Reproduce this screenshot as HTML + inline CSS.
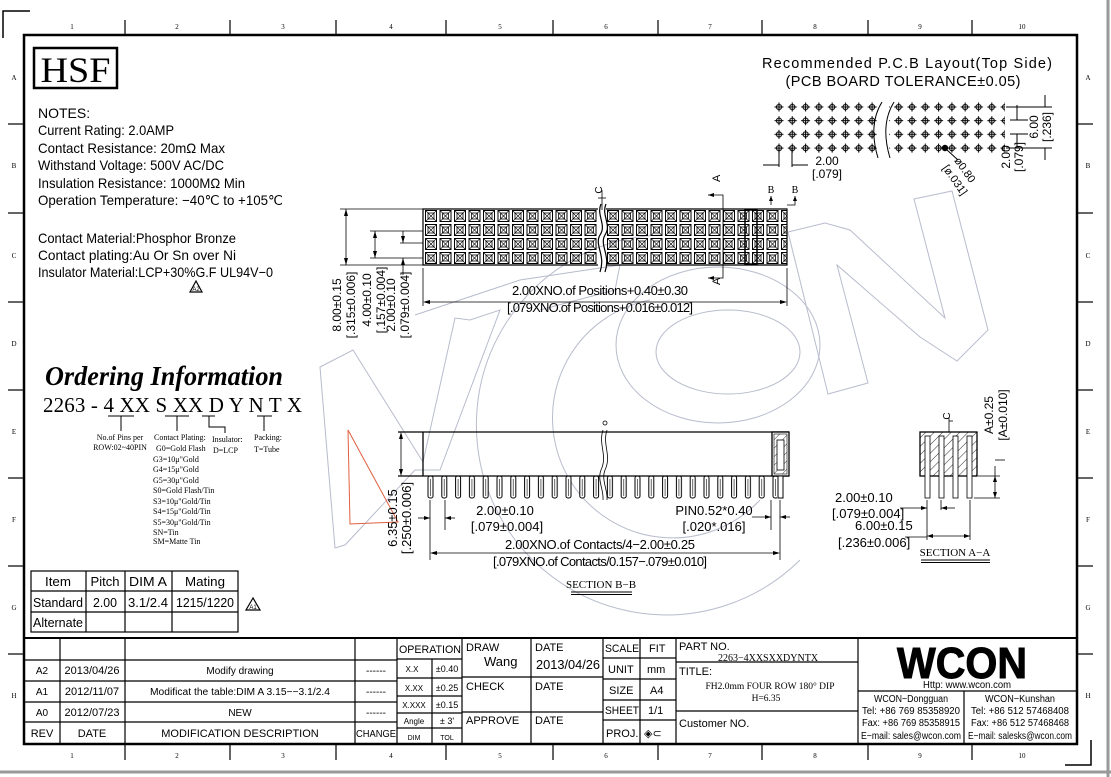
<!DOCTYPE html>
<html><head><meta charset="utf-8"><style>
html,body{margin:0;padding:0;background:#fff;}
svg{display:block;}
text{font-family:"Liberation Sans",sans-serif;fill:#000;}
.s{font-family:"Liberation Serif",serif;}
</style></head><body>
<svg width="1111" height="777" viewBox="0 0 1111 777" xmlns="http://www.w3.org/2000/svg">
<defs>
<pattern id="cell" patternUnits="userSpaceOnUse" x="424" y="209" width="14.5" height="14">
<rect x="1.5" y="1.5" width="11" height="11" fill="none" stroke="#000" stroke-width="1"/>
<rect x="4" y="4" width="6" height="6" fill="none" stroke="#000" stroke-width="0.8"/>
<path d="M1.5 1.5L4 4M12.5 1.5L10 4M1.5 12.5L4 10M12.5 12.5L10 10M4 4L10 10M10 4L4 10" stroke="#000" stroke-width="0.6"/>
</pattern>
<pattern id="cell2" patternUnits="userSpaceOnUse" x="606" y="209" width="14.5" height="14">
<rect x="1.5" y="1.5" width="11" height="11" fill="none" stroke="#000" stroke-width="1"/>
<rect x="4" y="4" width="6" height="6" fill="none" stroke="#000" stroke-width="0.8"/>
<path d="M1.5 1.5L4 4M12.5 1.5L10 4M1.5 12.5L4 10M12.5 12.5L10 10M4 4L10 10M10 4L4 10" stroke="#000" stroke-width="0.6"/>
</pattern>
<pattern id="dot" patternUnits="userSpaceOnUse" x="772.5" y="100.5" width="13.3" height="13.7">
<circle cx="6.5" cy="6.5" r="2.6" fill="none" stroke="#000" stroke-width="1"/>
<path d="M2 6.5H11M6.5 2V11" stroke="#000" stroke-width="1"/>
</pattern>
<pattern id="pin" patternUnits="userSpaceOnUse" x="427" y="476" width="13.8" height="30">
<rect x="1" y="0" width="5" height="22" rx="2" fill="#fff" stroke="#000" stroke-width="1"/>
<line x1="3.5" y1="3" x2="3.5" y2="20" stroke="#000" stroke-width="0.6"/>
</pattern>
<pattern id="hatch" patternUnits="userSpaceOnUse" width="6" height="6" patternTransform="rotate(45)">
<line x1="0" y1="0" x2="0" y2="6" stroke="#000" stroke-width="0.8"/>
</pattern>
</defs>

<rect x="0" y="0" width="1111" height="777" fill="#fff"/>
<line x1="1108" y1="0" x2="1108" y2="777" stroke="#999" stroke-width="3"/>
<line x1="0" y1="772" x2="1111" y2="772" stroke="#999" stroke-width="3"/>
<path d="M3 38V11H30" fill="none" stroke="#000" stroke-width="1.5"/>
<path d="M1065 765H1091V740" fill="none" stroke="#000" stroke-width="1.5"/>

<g fill="none" stroke="#b8bccc" stroke-width="1">
<polygon points="320,367 353,350 423,462 455,318 470,320 500,310 440,470 415,470 345,545 335,548"/>
<path d="M660 235 A190 190 0 1 0 800 560"/>
<path d="M650 300 A120 120 0 1 0 760 500"/>
<ellipse cx="718" cy="345" rx="102" ry="78"/>
<ellipse cx="728" cy="352" rx="72" ry="42"/>
<polygon points="914,199 952,191 988,330 957,361 920,337 837,265 868,383 828,394 788,232 825,223 850,230 945,318"/>
<polyline points="415,315 520,280 620,265 615,290 540,310" />
</g>
<polygon points="348,430 398,522 350,524" fill="none" stroke="#e06040" stroke-width="1"/>

<rect x="24" y="35" width="1053" height="709" fill="none" stroke="#000" stroke-width="2.5"/>
<g stroke="#000" stroke-width="1.2">
<line x1="125" y1="20" x2="125" y2="35"/><line x1="230" y1="20" x2="230" y2="35"/><line x1="336" y1="20" x2="336" y2="35"/><line x1="446" y1="20" x2="446" y2="35"/><line x1="553" y1="20" x2="553" y2="35"/><line x1="658" y1="20" x2="658" y2="35"/><line x1="762" y1="20" x2="762" y2="35"/><line x1="868" y1="20" x2="868" y2="35"/><line x1="972" y1="20" x2="972" y2="35"/>
<line x1="125" y1="744" x2="125" y2="760"/><line x1="230" y1="744" x2="230" y2="760"/><line x1="336" y1="744" x2="336" y2="760"/><line x1="446" y1="744" x2="446" y2="760"/><line x1="553" y1="744" x2="553" y2="760"/><line x1="658" y1="744" x2="658" y2="760"/><line x1="762" y1="744" x2="762" y2="760"/><line x1="868" y1="744" x2="868" y2="760"/><line x1="972" y1="744" x2="972" y2="760"/>
<line x1="8" y1="124" x2="24" y2="124"/><line x1="8" y1="213" x2="24" y2="213"/><line x1="8" y1="302" x2="24" y2="302"/><line x1="8" y1="390" x2="24" y2="390"/><line x1="8" y1="478" x2="24" y2="478"/><line x1="8" y1="566" x2="24" y2="566"/><line x1="8" y1="654" x2="24" y2="654"/>
<line x1="1077" y1="124" x2="1093" y2="124"/><line x1="1077" y1="213" x2="1093" y2="213"/><line x1="1077" y1="302" x2="1093" y2="302"/><line x1="1077" y1="390" x2="1093" y2="390"/><line x1="1077" y1="478" x2="1093" y2="478"/><line x1="1077" y1="566" x2="1093" y2="566"/><line x1="1077" y1="654" x2="1093" y2="654"/>
</g>
<g class="s" font-size="7" text-anchor="middle" fill="#555">
<text x="72" y="29" class="s">1</text><text x="177" y="29" class="s">2</text><text x="283" y="29" class="s">3</text><text x="391" y="29" class="s">4</text><text x="500" y="29" class="s">5</text><text x="606" y="29" class="s">6</text><text x="710" y="29" class="s">7</text><text x="815" y="29" class="s">8</text><text x="920" y="29" class="s">9</text><text x="1022" y="29" class="s">10</text>
<text x="72" y="758" class="s">1</text><text x="177" y="758" class="s">2</text><text x="283" y="758" class="s">3</text><text x="391" y="758" class="s">4</text><text x="500" y="758" class="s">5</text><text x="606" y="758" class="s">6</text><text x="710" y="758" class="s">7</text><text x="815" y="758" class="s">8</text><text x="920" y="758" class="s">9</text><text x="1022" y="758" class="s">10</text>
<text x="14" y="80" class="s">A</text><text x="14" y="168" class="s">B</text><text x="14" y="258" class="s">C</text><text x="14" y="346" class="s">D</text><text x="14" y="434" class="s">E</text><text x="14" y="522" class="s">F</text><text x="14" y="610" class="s">G</text><text x="14" y="698" class="s">H</text>
<text x="1088" y="80" class="s">A</text><text x="1088" y="168" class="s">B</text><text x="1088" y="258" class="s">C</text><text x="1088" y="346" class="s">D</text><text x="1088" y="434" class="s">E</text><text x="1088" y="522" class="s">F</text><text x="1088" y="610" class="s">G</text><text x="1088" y="698" class="s">H</text>
</g>

<rect x="34" y="48" width="83" height="40" fill="none" stroke="#000" stroke-width="2.5"/>
<text x="75.5" y="82" class="s" font-size="36" text-anchor="middle" textLength="70" lengthAdjust="spacingAndGlyphs">HSF</text>
<g font-size="14">
<text x="38" y="118">NOTES:</text>
<text x="38" y="135" textLength="136" lengthAdjust="spacingAndGlyphs">Current Rating: 2.0AMP</text>
<text x="38" y="153" textLength="187" lengthAdjust="spacingAndGlyphs">Contact Resistance: 20mΩ Max</text>
<text x="38" y="170" textLength="186" lengthAdjust="spacingAndGlyphs">Withstand Voltage: 500V AC/DC</text>
<text x="38" y="188" textLength="207" lengthAdjust="spacingAndGlyphs">Insulation Resistance: 1000MΩ Min</text>
<text x="38" y="205" textLength="245" lengthAdjust="spacingAndGlyphs">Operation Temperature: −40℃ to +105℃</text>
<text x="38" y="243" textLength="198" lengthAdjust="spacingAndGlyphs">Contact Material:Phosphor Bronze</text>
<text x="38" y="260" textLength="198" lengthAdjust="spacingAndGlyphs">Contact plating:Au Or Sn over Ni</text>
<text x="38" y="277" textLength="235" lengthAdjust="spacingAndGlyphs">Insulator Material:LCP+30%G.F UL94V−0</text>
</g>
<polygon points="196,281 190,292 202,292" fill="none" stroke="#000" stroke-width="1.2"/>
<text x="196" y="291" font-size="6" text-anchor="middle">A2</text>

<text x="45" y="385" class="s" font-size="27" font-weight="bold" font-style="italic" textLength="238" lengthAdjust="spacingAndGlyphs">Ordering Information</text>
<text x="43" y="412" class="s" font-size="21" textLength="259" lengthAdjust="spacing">2263 - 4 XX S XX D Y N T X</text>
<g stroke="#000" stroke-width="1">
<line x1="108" y1="416" x2="134" y2="416"/><line x1="121" y1="416" x2="121" y2="431"/>
<line x1="165" y1="416" x2="189" y2="416"/><line x1="177" y1="416" x2="177" y2="431"/>
<line x1="202" y1="416" x2="215" y2="416"/><polyline points="209,416 209,427 225,427 225,433" fill="none"/>
<line x1="257" y1="416" x2="272" y2="416"/><line x1="264" y1="416" x2="264" y2="431"/>
</g>
<g class="s" font-size="8">
<text x="120" y="440" class="s" text-anchor="middle">No.of Pins per</text>
<text x="120" y="450" class="s" text-anchor="middle">ROW:02~40PIN</text>
<text x="154" y="440" class="s">Contact Plating:</text>
<text x="156" y="451" class="s">G0=Gold Flash</text>
<text x="153" y="462" class="s">G3=10μ"Gold</text>
<text x="153" y="472" class="s">G4=15μ"Gold</text>
<text x="153" y="483" class="s">G5=30μ"Gold</text>
<text x="153" y="493" class="s">S0=Gold Flash/Tin</text>
<text x="153" y="504" class="s">S3=10μ"Gold/Tin</text>
<text x="153" y="514" class="s">S4=15μ"Gold/Tin</text>
<text x="153" y="525" class="s">S5=30μ"Gold/Tin</text>
<text x="153" y="535" class="s">SN=Tin</text>
<text x="153" y="544" class="s">SM=Matte Tin</text>
<text x="212" y="442" class="s">Insulator:</text>
<text x="213" y="453" class="s">D=LCP</text>
<text x="254" y="440" class="s">Packing:</text>
<text x="254" y="452" class="s">T=Tube</text>
</g>

<g stroke="#000" stroke-width="1.2" fill="none">
<rect x="31" y="571" width="207" height="61"/>
<line x1="31" y1="591" x2="238" y2="591"/><line x1="31" y1="612" x2="238" y2="612"/>
<line x1="86" y1="571" x2="86" y2="632"/><line x1="125" y1="571" x2="125" y2="632"/><line x1="172" y1="571" x2="172" y2="632"/>
</g>
<g font-size="12.5" text-anchor="middle">
<text x="58" y="586" textLength="26" lengthAdjust="spacingAndGlyphs">Item</text><text x="105" y="586" textLength="29" lengthAdjust="spacingAndGlyphs">Pitch</text><text x="148" y="586" textLength="38" lengthAdjust="spacingAndGlyphs">DIM A</text><text x="205" y="586" textLength="40" lengthAdjust="spacingAndGlyphs">Mating</text>
<text x="58" y="607" textLength="50" lengthAdjust="spacingAndGlyphs">Standard</text><text x="105" y="607" textLength="24" lengthAdjust="spacingAndGlyphs">2.00</text><text x="148" y="607" textLength="40" lengthAdjust="spacingAndGlyphs">3.1/2.4</text><text x="205" y="607" textLength="58" lengthAdjust="spacingAndGlyphs">1215/1220</text>
<text x="58" y="627" textLength="50" lengthAdjust="spacingAndGlyphs">Alternate</text>
</g>
<polygon points="253,598 246,610 260,610" fill="none" stroke="#000" stroke-width="1.2"/>
<text x="253" y="609" font-size="6" text-anchor="middle">A1</text>

<rect x="424" y="209" width="174" height="56" fill="url(#cell)"/>
<rect x="606" y="209" width="181" height="56" fill="url(#cell2)"/>
<rect x="745" y="210" width="12" height="54" fill="none" stroke="#000" stroke-width="1.5"/>
<g stroke="#000" stroke-width="1.2" fill="none">
<polyline points="598,209 423,209 423,265 598,265"/>
<polyline points="606,209 787,209 787,265 606,265"/>
<path d="M601 204 C596 215 607 225 600 235 C594 245 606 255 600 272"/>
<path d="M606 204 C601 215 612 225 605 235 C599 245 611 255 605 272"/>
</g>
<g stroke="#000" stroke-width="0.8" fill="none">
<line x1="602" y1="190" x2="602" y2="210"/><line x1="598" y1="198" x2="606" y2="198"/>
<polyline points="708,195 723,195 723,278 708,278"/>
<polyline points="771,205 771,196"/><polyline points="787,205 795,205 795,196"/>
<line x1="340" y1="209" x2="423" y2="209"/><line x1="340" y1="265" x2="423" y2="265"/>
<line x1="346" y1="209" x2="346" y2="265"/>
<line x1="370" y1="231" x2="423" y2="231"/><line x1="370" y1="258" x2="423" y2="258"/>
<line x1="375" y1="231" x2="375" y2="258"/>
<line x1="400" y1="243" x2="423" y2="243"/><line x1="403" y1="231" x2="403" y2="243"/><line x1="403" y1="258" x2="403" y2="275"/>
<line x1="423" y1="268" x2="423" y2="306"/><line x1="787" y1="268" x2="787" y2="306"/>
<line x1="425" y1="302" x2="785" y2="302"/>
</g>
<g fill="#000">
<path d="M423 302l7-2v4z"/><path d="M787 302l-7-2v4z"/>
<path d="M346 209l-2 7h4z"/><path d="M346 265l-2-7h4z"/>
<path d="M375 231l-2 7h4z"/><path d="M375 258l-2-7h4z"/>
<path d="M403 243l-2-7h4z"/><path d="M403 258l-2 7h4z"/>
<path d="M708 195l6-2v4z"/><path d="M708 278l6-2v4z"/>
<path d="M771 196l-2 5h4z"/><path d="M795 196l-2 5h4z"/>
</g>
<text x="602" y="190" font-size="10" text-anchor="middle" transform="rotate(-90 602 190)">C</text>
<text x="720" y="190" font-size="11" transform="rotate(-90 716 186)">A</text>
<text x="714" y="287" font-size="11" transform="rotate(-90 716 283)">A</text>
<text x="771" y="193" class="s" font-size="10" text-anchor="middle">B</text>
<text x="795" y="193" class="s" font-size="10" text-anchor="middle">B</text>
<text x="600" y="295" font-size="13" text-anchor="middle" textLength="176">2.00XNO.of Positions+0.40±0.30</text>
<text x="600" y="312" font-size="13" text-anchor="middle" textLength="186">[.079XNO.of Positions+0.016±0.012]</text>
<g font-size="12" text-anchor="middle">
<text transform="translate(341,305) rotate(-90)">8.00±0.15</text>
<text transform="translate(355,305) rotate(-90)">[.315±0.006]</text>
<text transform="translate(371,300) rotate(-90)">4.00±0.10</text>
<text transform="translate(385,300) rotate(-90)">[.157±0.004]</text>
<text transform="translate(395,305) rotate(-90)">2.00±0.10</text>
<text transform="translate(409,305) rotate(-90)">[.079±0.004]</text>
</g>

<text x="907" y="68" font-size="14.5" text-anchor="middle" textLength="290" lengthAdjust="spacing">Recommended P.C.B Layout(Top Side)</text>
<text x="903" y="86" font-size="14.5" text-anchor="middle" textLength="235" lengthAdjust="spacing">(PCB BOARD TOLERANCE±0.05)</text>
<rect x="772" y="100" width="107" height="55" fill="url(#dot)"/>
<rect x="889" y="100" width="116" height="55" fill="url(#dot)"/>
<circle cx="945" cy="148" r="3.2" fill="#000"/>
<g stroke="#000" stroke-width="1" fill="none">
<path d="M882 102 C872 118 872 138 878 158"/><path d="M894 102 C884 118 884 138 890 158"/>
<line x1="1006" y1="107" x2="1052" y2="107"/><line x1="1006" y1="148" x2="1052" y2="148"/>
<line x1="1045" y1="95" x2="1045" y2="107"/><line x1="1045" y1="148" x2="1045" y2="160"/>
<line x1="1010" y1="134" x2="1028" y2="134"/><line x1="1010" y1="120" x2="1028" y2="120"/>
<line x1="1017" y1="105" x2="1017" y2="120"/><line x1="1017" y1="134" x2="1017" y2="148"/>
<line x1="779" y1="148" x2="779" y2="167"/><line x1="792" y1="148" x2="792" y2="167"/>
<line x1="763" y1="165" x2="779" y2="165"/><line x1="792" y1="165" x2="808" y2="165"/>
<line x1="947" y1="150" x2="958" y2="160"/>
</g>
<text x="827" y="165" font-size="12" text-anchor="middle">2.00</text>
<text x="827" y="178" font-size="12" text-anchor="middle">[.079]</text>
<text transform="translate(1038,127) rotate(-90)" font-size="12" text-anchor="middle">6.00</text>
<text transform="translate(1051,127) rotate(-90)" font-size="12" text-anchor="middle">[.236]</text>
<text transform="translate(1010,157) rotate(-90)" font-size="12" text-anchor="middle">2.00</text>
<text transform="translate(1023,157) rotate(-90)" font-size="12" text-anchor="middle">[.079]</text>
<text transform="translate(962,172) rotate(55)" font-size="11" text-anchor="middle">ø0.80</text>
<text transform="translate(952,182) rotate(55)" font-size="11" text-anchor="middle">[ø.031]</text>

<rect x="427" y="476" width="350" height="30" fill="url(#pin)"/>
<rect x="600" y="476" width="6" height="30" fill="#fff"/>
<g stroke="#000" stroke-width="1.3" fill="none">
<line x1="398" y1="432" x2="789" y2="432"/><line x1="398" y1="476" x2="789" y2="476"/>
<line x1="423" y1="432" x2="423" y2="476"/>
<rect x="772" y="432" width="17" height="44" fill="#fff"/>
</g>
<rect x="774" y="434" width="13" height="40" fill="url(#hatch)" stroke="#000" stroke-width="0.6"/>
<rect x="777" y="440" width="7" height="30" fill="#fff" stroke="#000" stroke-width="0.8"/>
<rect x="778" y="476" width="5" height="22" fill="#fff" stroke="#000" stroke-width="1"/>
<g stroke="#000" stroke-width="0.8" fill="none">
<path d="M603 430 C598 445 608 455 601 470 C597 480 604 490 603 500"/>
<path d="M607 430 C602 445 612 455 605 470 C601 480 608 490 607 500"/>
<circle cx="605" cy="423" r="2"/>
<line x1="401" y1="434" x2="401" y2="474"/>
<line x1="430" y1="500" x2="430" y2="560"/><line x1="445" y1="500" x2="445" y2="530"/>
<line x1="780" y1="500" x2="780" y2="560"/><line x1="771" y1="500" x2="771" y2="530"/>
<line x1="418" y1="518" x2="430" y2="518"/><line x1="445" y1="518" x2="455" y2="518"/>
<line x1="752" y1="517" x2="771" y2="517"/><line x1="780" y1="517" x2="790" y2="517"/>
<line x1="432" y1="553" x2="778" y2="553"/>
</g>
<g fill="#000">
<path d="M401 432l-2 7h4z"/><path d="M401 476l-2-7h4z"/>
<path d="M430 518l-6-2v4z"/><path d="M445 518l6-2v4z"/>
<path d="M771 517l-6-2v4z"/><path d="M780 517l6-2v4z"/>
<path d="M430 553l7-2v4z"/><path d="M780 553l-7-2v4z"/>
</g>
<g font-size="13" text-anchor="middle">
<text x="505" y="515">2.00±0.10</text>
<text x="507" y="531">[.079±0.004]</text>
<text x="714" y="515">PIN0.52*0.40</text>
<text x="714" y="531">[.020*.016]</text>
<text x="600" y="549" textLength="190">2.00XNO.of Contacts/4−2.00±0.25</text>
<text x="600" y="566" textLength="214">[.079XNO.of Contacts/0.157−.079±0.010]</text>
<text transform="translate(397,518) rotate(-90)">6.35±0.15</text>
<text transform="translate(411,518) rotate(-90)">[.250±0.006]</text>
</g>
<text x="601" y="588" class="s" font-size="11" text-anchor="middle">SECTION B−B</text>
<line x1="571" y1="592" x2="632" y2="592" stroke="#000" stroke-width="1"/>
<line x1="571" y1="594.5" x2="632" y2="594.5" stroke="#000" stroke-width="1"/>

<rect x="920" y="432" width="57" height="44" fill="url(#hatch)" stroke="#000" stroke-width="1.3"/>
<g fill="#fff" stroke="#000" stroke-width="0.8">
<rect x="925" y="436" width="5" height="62"/><rect x="939" y="436" width="5" height="62"/><rect x="953" y="436" width="5" height="62"/><rect x="967" y="436" width="5" height="62"/>
</g>
<g stroke="#000" stroke-width="0.8" fill="none">
<line x1="949" y1="418" x2="949" y2="432"/><line x1="949" y1="421" x2="953" y2="421"/>
<line x1="978" y1="476" x2="1000" y2="476"/><line x1="974" y1="498" x2="1000" y2="498"/>
<line x1="995" y1="466" x2="995" y2="498"/><line x1="995" y1="460" x2="1005" y2="460"/>
<line x1="927" y1="500" x2="927" y2="540"/><line x1="970" y1="500" x2="970" y2="540"/>
<line x1="941" y1="500" x2="941" y2="510"/>
<polyline points="900,508 927,508"/><line x1="941" y1="508" x2="955" y2="508"/>
<polyline points="905,537 927,537"/><line x1="927" y1="536" x2="970" y2="536"/>
</g>
<g fill="#000">
<path d="M995 476l-2 6h4z"/><path d="M995 498l-2-6h4z"/>
<path d="M927 508l-6-2v4z"/><path d="M941 508l6-2v4z"/>
<path d="M927 536l6-2v4z"/><path d="M970 536l-6-2v4z"/>
</g>
<text transform="translate(950,416) rotate(-90)" font-size="10" text-anchor="middle">C</text>
<text transform="translate(993,415) rotate(-90)" font-size="12" text-anchor="middle">A±0.25</text>
<text transform="translate(1007,415) rotate(-90)" font-size="12" text-anchor="middle">[A±0.010]</text>
<g font-size="13">
<text x="835" y="502">2.00±0.10</text>
<text x="832" y="518">[.079±0.004]</text>
<text x="855" y="530">6.00±0.15</text>
<text x="838" y="547">[.236±0.006]</text>
</g>
<text x="955" y="556" class="s" font-size="11" text-anchor="middle">SECTION A−A</text>
<line x1="921" y1="560" x2="990" y2="560" stroke="#000" stroke-width="1"/>
<line x1="921" y1="562.5" x2="990" y2="562.5" stroke="#000" stroke-width="1"/>

<g stroke="#000" stroke-width="1.2" fill="none">
<line x1="24" y1="638" x2="1077" y2="638" stroke-width="2"/>
<line x1="24" y1="660" x2="397" y2="660"/><line x1="24" y1="681" x2="397" y2="681"/><line x1="24" y1="702" x2="397" y2="702"/><line x1="24" y1="722" x2="397" y2="722"/>
<line x1="60" y1="638" x2="60" y2="744"/><line x1="125" y1="638" x2="125" y2="744"/><line x1="355" y1="638" x2="355" y2="744"/><line x1="397" y1="638" x2="397" y2="744"/>
<line x1="462" y1="638" x2="462" y2="744"/><line x1="531" y1="638" x2="531" y2="744"/><line x1="603" y1="638" x2="603" y2="744"/><line x1="640" y1="638" x2="640" y2="744"/><line x1="676" y1="638" x2="676" y2="744"/><line x1="858" y1="638" x2="858" y2="744"/>
<line x1="432" y1="659" x2="432" y2="744"/>
<line x1="397" y1="659" x2="462" y2="659"/><line x1="397" y1="678" x2="462" y2="678"/><line x1="397" y1="696" x2="462" y2="696"/><line x1="397" y1="713" x2="462" y2="713"/><line x1="397" y1="728" x2="462" y2="728"/>
<line x1="462" y1="677" x2="603" y2="677"/><line x1="462" y1="712" x2="603" y2="712"/>
<line x1="603" y1="658" x2="676" y2="658"/><line x1="603" y1="679" x2="676" y2="679"/><line x1="603" y1="700" x2="676" y2="700"/><line x1="603" y1="720" x2="676" y2="720"/>
<line x1="676" y1="662" x2="858" y2="662"/><line x1="676" y1="711" x2="858" y2="711"/>
<line x1="858" y1="691" x2="1077" y2="691"/><line x1="964" y1="691" x2="964" y2="744"/>
</g>
<g font-size="10" text-anchor="middle">
<text x="42" y="674">A2</text><text x="92" y="674" font-size="11">2013/04/26</text><text x="240" y="674">Modify drawing</text><text x="376" y="674">------</text>
<text x="42" y="695">A1</text><text x="92" y="695" font-size="11">2012/11/07</text><text x="240" y="695" textLength="180" lengthAdjust="spacingAndGlyphs">Modificat the table:DIM A 3.15−−3.1/2.4</text><text x="376" y="695">------</text>
<text x="42" y="716">A0</text><text x="92" y="716" font-size="11">2012/07/23</text><text x="240" y="716">NEW</text><text x="376" y="716">------</text>
<text x="42" y="737" font-size="11">REV</text><text x="92" y="737" font-size="11">DATE</text><text x="240" y="737" font-size="11">MODIFICATION DESCRIPTION</text><text x="376" y="737" font-size="10.5" textLength="40" lengthAdjust="spacingAndGlyphs">CHANGE</text>
<text x="430" y="653" font-size="11" textLength="62" lengthAdjust="spacingAndGlyphs">OPERATION</text>
<text x="412" y="672" font-size="8">X.X</text><text x="447" y="672" font-size="9">±0.40</text>
<text x="414" y="691" font-size="8">X.XX</text><text x="447" y="691" font-size="9">±0.25</text>
<text x="414" y="708" font-size="8">X.XXX</text><text x="447" y="708" font-size="9">±0.15</text>
<text x="414" y="724" font-size="8">Angle</text><text x="447" y="724" font-size="9">± 3'</text>
<text x="414" y="740" font-size="7">DIM</text><text x="447" y="740" font-size="7">TOL</text>
</g>
<g font-size="11">
<text x="466" y="651">DRAW</text><text x="484" y="666" font-size="13">Wang</text>
<text x="466" y="690">CHECK</text><text x="466" y="724">APPROVE</text>
<text x="535" y="651">DATE</text><text x="536" y="669" font-size="13" textLength="64" lengthAdjust="spacingAndGlyphs">2013/04/26</text>
<text x="535" y="690">DATE</text><text x="535" y="724">DATE</text>
<text x="605" y="652" textLength="34" lengthAdjust="spacingAndGlyphs">SCALE</text><text x="649" y="652">FIT</text>
<text x="608" y="673">UNIT</text><text x="647" y="673">mm</text>
<text x="609" y="694">SIZE</text><text x="650" y="694">A4</text>
<text x="605" y="714" textLength="34" lengthAdjust="spacingAndGlyphs">SHEET</text><text x="648" y="714">1/1</text>
<text x="606" y="737">PROJ.</text><text x="644" y="737">◈⊂</text>
<text x="679" y="650">PART NO.</text>
<text x="679" y="675">TITLE:</text>
<text x="679" y="727">Customer NO.</text>
</g>
<g class="s" font-size="10" text-anchor="middle">
<text x="768" y="661" class="s">2263−4XXSXXDYNTX</text>
<text x="770" y="689" class="s" font-size="9.5">FH2.0mm FOUR ROW 180° DIP</text>
<text x="766" y="701" class="s" font-size="9.5">H=6.35</text>
</g>
<text x="962" y="678" font-size="44" font-weight="bold" text-anchor="middle" textLength="130" lengthAdjust="spacingAndGlyphs" fill="#222" stroke="#000" stroke-width="1">WCON</text>
<g font-size="10" text-anchor="middle">
<text x="967" y="688" textLength="88" lengthAdjust="spacingAndGlyphs">Http: www.wcon.com</text>
<text x="911" y="702" textLength="74" lengthAdjust="spacingAndGlyphs">WCON−Dongguan</text><text x="1020" y="702" textLength="70" lengthAdjust="spacingAndGlyphs">WCON−Kunshan</text>
<text x="911" y="714" textLength="98" lengthAdjust="spacingAndGlyphs">Tel: +86 769 85358920</text><text x="1020" y="714" textLength="98" lengthAdjust="spacingAndGlyphs">Tel: +86 512 57468408</text>
<text x="911" y="726" textLength="98" lengthAdjust="spacingAndGlyphs">Fax: +86 769 85358915</text><text x="1020" y="726" textLength="98" lengthAdjust="spacingAndGlyphs">Fax: +86 512 57468468</text>
<text x="911" y="739" textLength="100" lengthAdjust="spacingAndGlyphs">E−mail: sales@wcon.com</text><text x="1020" y="739" textLength="104" lengthAdjust="spacingAndGlyphs">E−mail: salesks@wcon.com</text>
</g>
</svg>
</body></html>
